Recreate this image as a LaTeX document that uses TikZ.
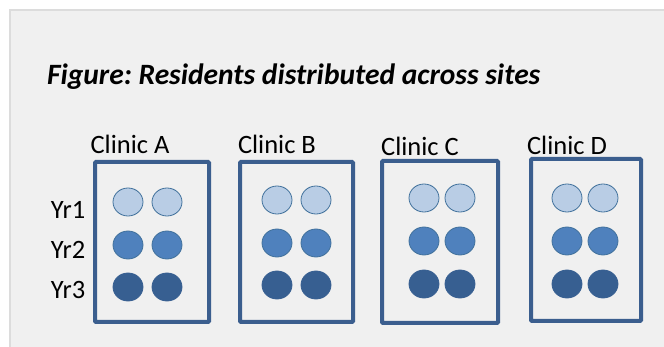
\documentclass[tikz,border=0pt]{standalone}
\usepackage{fontspec}
\setmainfont{Carlito}
\usetikzlibrary{positioning,shapes.geometric}

\definecolor{boxblue}{HTML}{3B5E8E}
\definecolor{rimblue}{HTML}{41719C}
\definecolor{yrone}{HTML}{B9CDE5}
\definecolor{yrtwo}{HTML}{4F81BD}
\definecolor{yrthree}{HTML}{375F91}
\definecolor{panel}{HTML}{F0F0F0}
\definecolor{panelrim}{HTML}{DCDCDC}

\frenchspacing
\begin{document}
\begin{tikzpicture}
[x=1pt,y=-1pt,
 every node/.style={inner sep=0pt,outer sep=0pt,font=\fontsize{26.5}{30}\selectfont},
 site/.style={rectangle,draw=boxblue,line width=4pt,rounded corners=1pt,minimum height=160pt},
 res/.style={ellipse,draw=rimblue,line width=0.8pt,minimum width=30pt,minimum height=28pt},
 y1/.style={res,fill=yrone},
 y2/.style={res,fill=yrtwo},
 y3/.style={res,fill=yrthree,draw=yrthree},
 title/.style={font=\fontsize{29.5}{34}\selectfont\bfseries\itshape}]
\useasboundingbox (0,0) rectangle (664,347);
\fill[panel,draw=panelrim,line width=2pt] (10,10) rectangle (670,355);
\node[title,anchor=west] (head) at (47,77) {Figure: Residents distributed across sites};
% clinic boxes
\node[site,minimum width=114pt] (boxA) at (152,242) {};
\node[site,minimum width=113pt] (boxB) at (296.5,242) {};
\node[site,minimum width=116pt,minimum height=162pt] (boxC) at (440,242) {};
\node[site,minimum width=110pt,minimum height=162pt] (boxD) at (586,240) {};
\node (labA) at (130,144) {Clinic A};
\node (labB) at (277,144) {Clinic B};
\node (labC) at (420,146) {Clinic C};
\node (labD) at (567,145) {Clinic D};
% year labels
\node (yr1) at (68,210) {Yr1};
\node (yr2) [on grid,below=40pt of yr1] {Yr2};
\node (yr3) [on grid,below=40pt of yr2] {Yr3};
% residents
\node[y1] (a1L) at (128,202) {};
\node[y1] (a1R) [on grid,right=39pt of a1L] {};
\node[y2] (a2L) [on grid,below=43pt of a1L] {};
\node[y2] (a2R) [on grid,right=39pt of a2L] {};
\node[y3] (a3L) [on grid,below=42pt of a2L] {};
\node[y3] (a3R) [on grid,right=39pt of a3L] {};
\node[y1] (b1L) at (277,200) {};
\node[y1] (b1R) [on grid,right=39pt of b1L] {};
\node[y2] (b2L) [on grid,below=43pt of b1L] {};
\node[y2] (b2R) [on grid,right=39pt of b2L] {};
\node[y3] (b3L) [on grid,below=42pt of b2L] {};
\node[y3] (b3R) [on grid,right=39pt of b3L] {};
\node[y1] (c1L) at (424,198) {};
\node[y1] (c1R) [on grid,right=36pt of c1L] {};
\node[y2] (c2L) [on grid,below=43pt of c1L] {};
\node[y2] (c2R) [on grid,right=36pt of c2L] {};
\node[y3] (c3L) [on grid,below=43pt of c2L] {};
\node[y3] (c3R) [on grid,right=36pt of c3L] {};
\node[y1] (d1L) at (567,198) {};
\node[y1] (d1R) [on grid,right=36pt of d1L] {};
\node[y2] (d2L) [on grid,below=43pt of d1L] {};
\node[y2] (d2R) [on grid,right=36pt of d2L] {};
\node[y3] (d3L) [on grid,below=43pt of d2L] {};
\node[y3] (d3R) [on grid,right=36pt of d3L] {};
\end{tikzpicture}
\end{document}
